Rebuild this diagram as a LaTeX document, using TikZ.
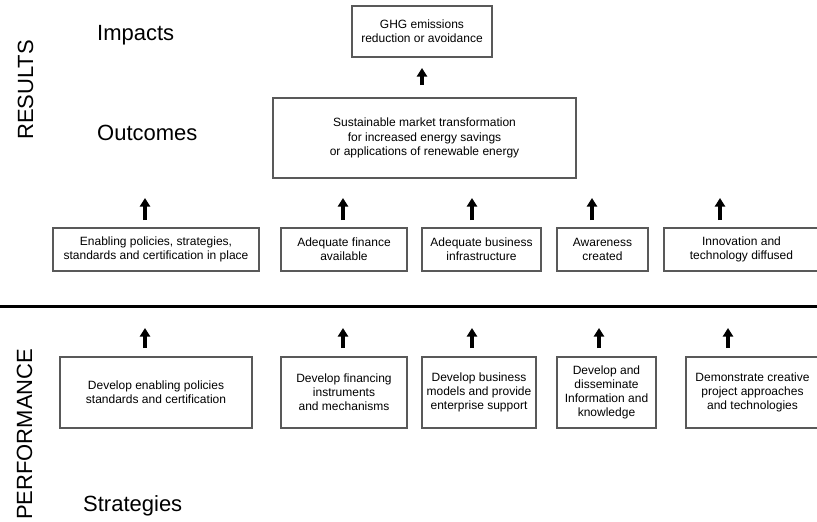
\documentclass[tikz,border=0pt]{standalone}
\usepackage{fontspec}
\setmainfont{Liberation Sans}
\usetikzlibrary{arrows.meta}
\begin{document}
\begin{tikzpicture}[x=1pt,y=-1pt,
  box/.style={draw=black!65, line width=1.1pt, fill=white, inner sep=0pt, align=center,
    font=\fontsize{12}{14.2}\selectfont},
  biglabel/.style={font=\fontsize{22}{24}\selectfont, inner sep=0pt},
  blockarrow/.style={line width=3.2pt, -{Triangle[width=10pt,length=8.5pt]}},
  sepline/.style={line width=3pt}]
\clip (0,0) rectangle (817,522);
\fill[white] (0,0) rectangle (817,522);

% big labels
\node[biglabel, anchor=base west] (impacts) at (97,40) {Impacts};
\node[biglabel, anchor=base west] (outcomes) at (97,140) {Outcomes};
\node[biglabel, anchor=base west] (strategies) at (83,511) {Strategies};
\node[biglabel, anchor=base west, rotate=90] (results) at (33,140) {RESULTS};
\node[biglabel, anchor=base west, rotate=90] (performance) at (32,520) {PERFORMANCE};

% top boxes
\node[box, minimum width=140pt, minimum height=51pt] (ghg) at (422,31.5) {GHG emissions\\reduction or avoidance};
\node[box, minimum width=303pt, minimum height=80pt] (smt) at (424.5,138) {Sustainable market transformation\\for increased energy savings\\or applications of renewable energy};

% outcome row
\node[box, minimum width=206pt, minimum height=43pt] (e1) at (156,249.5) {Enabling policies, strategies,\\standards and certification in place};
\node[box, minimum width=126pt, minimum height=43pt] (e2) at (344,249.5) {Adequate finance\\available};
\node[box, minimum width=119pt, minimum height=43pt] (e3) at (481.5,249.5) {Adequate business\\infrastructure};
\node[box, minimum width=91pt, minimum height=43pt] (e4) at (602.5,249.5) {Awareness\\created};
\node[box, minimum width=155pt, minimum height=43pt] (e5) at (741.5,249.5) {Innovation and\\technology diffused};

% strategy row
\node[box, minimum width=192pt, minimum height=71pt] (d1) at (156,392.5) {Develop enabling policies\\standards and certification};
\node[box, minimum width=126pt, minimum height=71pt] (d2) at (344,392.5) {Develop financing\\instruments\\and mechanisms};
\node[box, minimum width=114pt, minimum height=71pt] (d3) at (479,392.5) {Develop business\\models and provide\\enterprise support};
\node[box, minimum width=99pt, minimum height=71pt] (d4) at (606.5,392.5) {Develop and\\disseminate\\Information and\\knowledge};
\node[box, minimum width=133pt, minimum height=71pt] (d5) at (752.5,392.5) {Demonstrate creative\\project approaches\\and technologies};

% separator
\coordinate (sepL) at (0,306);
\coordinate (sepR) at (817,306);
\draw[sepline] (sepL) -- (sepR);

% arrows
\coordinate (g0) at (422,85); \coordinate (g1) at (422,68);
\draw[blockarrow] (g0) -- (g1);

\foreach \x [count=\i] in {145,343,472,592,720} {
  \coordinate (ua\i) at (\x,220); \coordinate (va\i) at (\x,198);
  \draw[blockarrow] (ua\i) -- (va\i);
}
\foreach \x [count=\i] in {145,343,472,599,728} {
  \coordinate (ub\i) at (\x,348); \coordinate (vb\i) at (\x,328);
  \draw[blockarrow] (ub\i) -- (vb\i);
}
\end{tikzpicture}
\end{document}
